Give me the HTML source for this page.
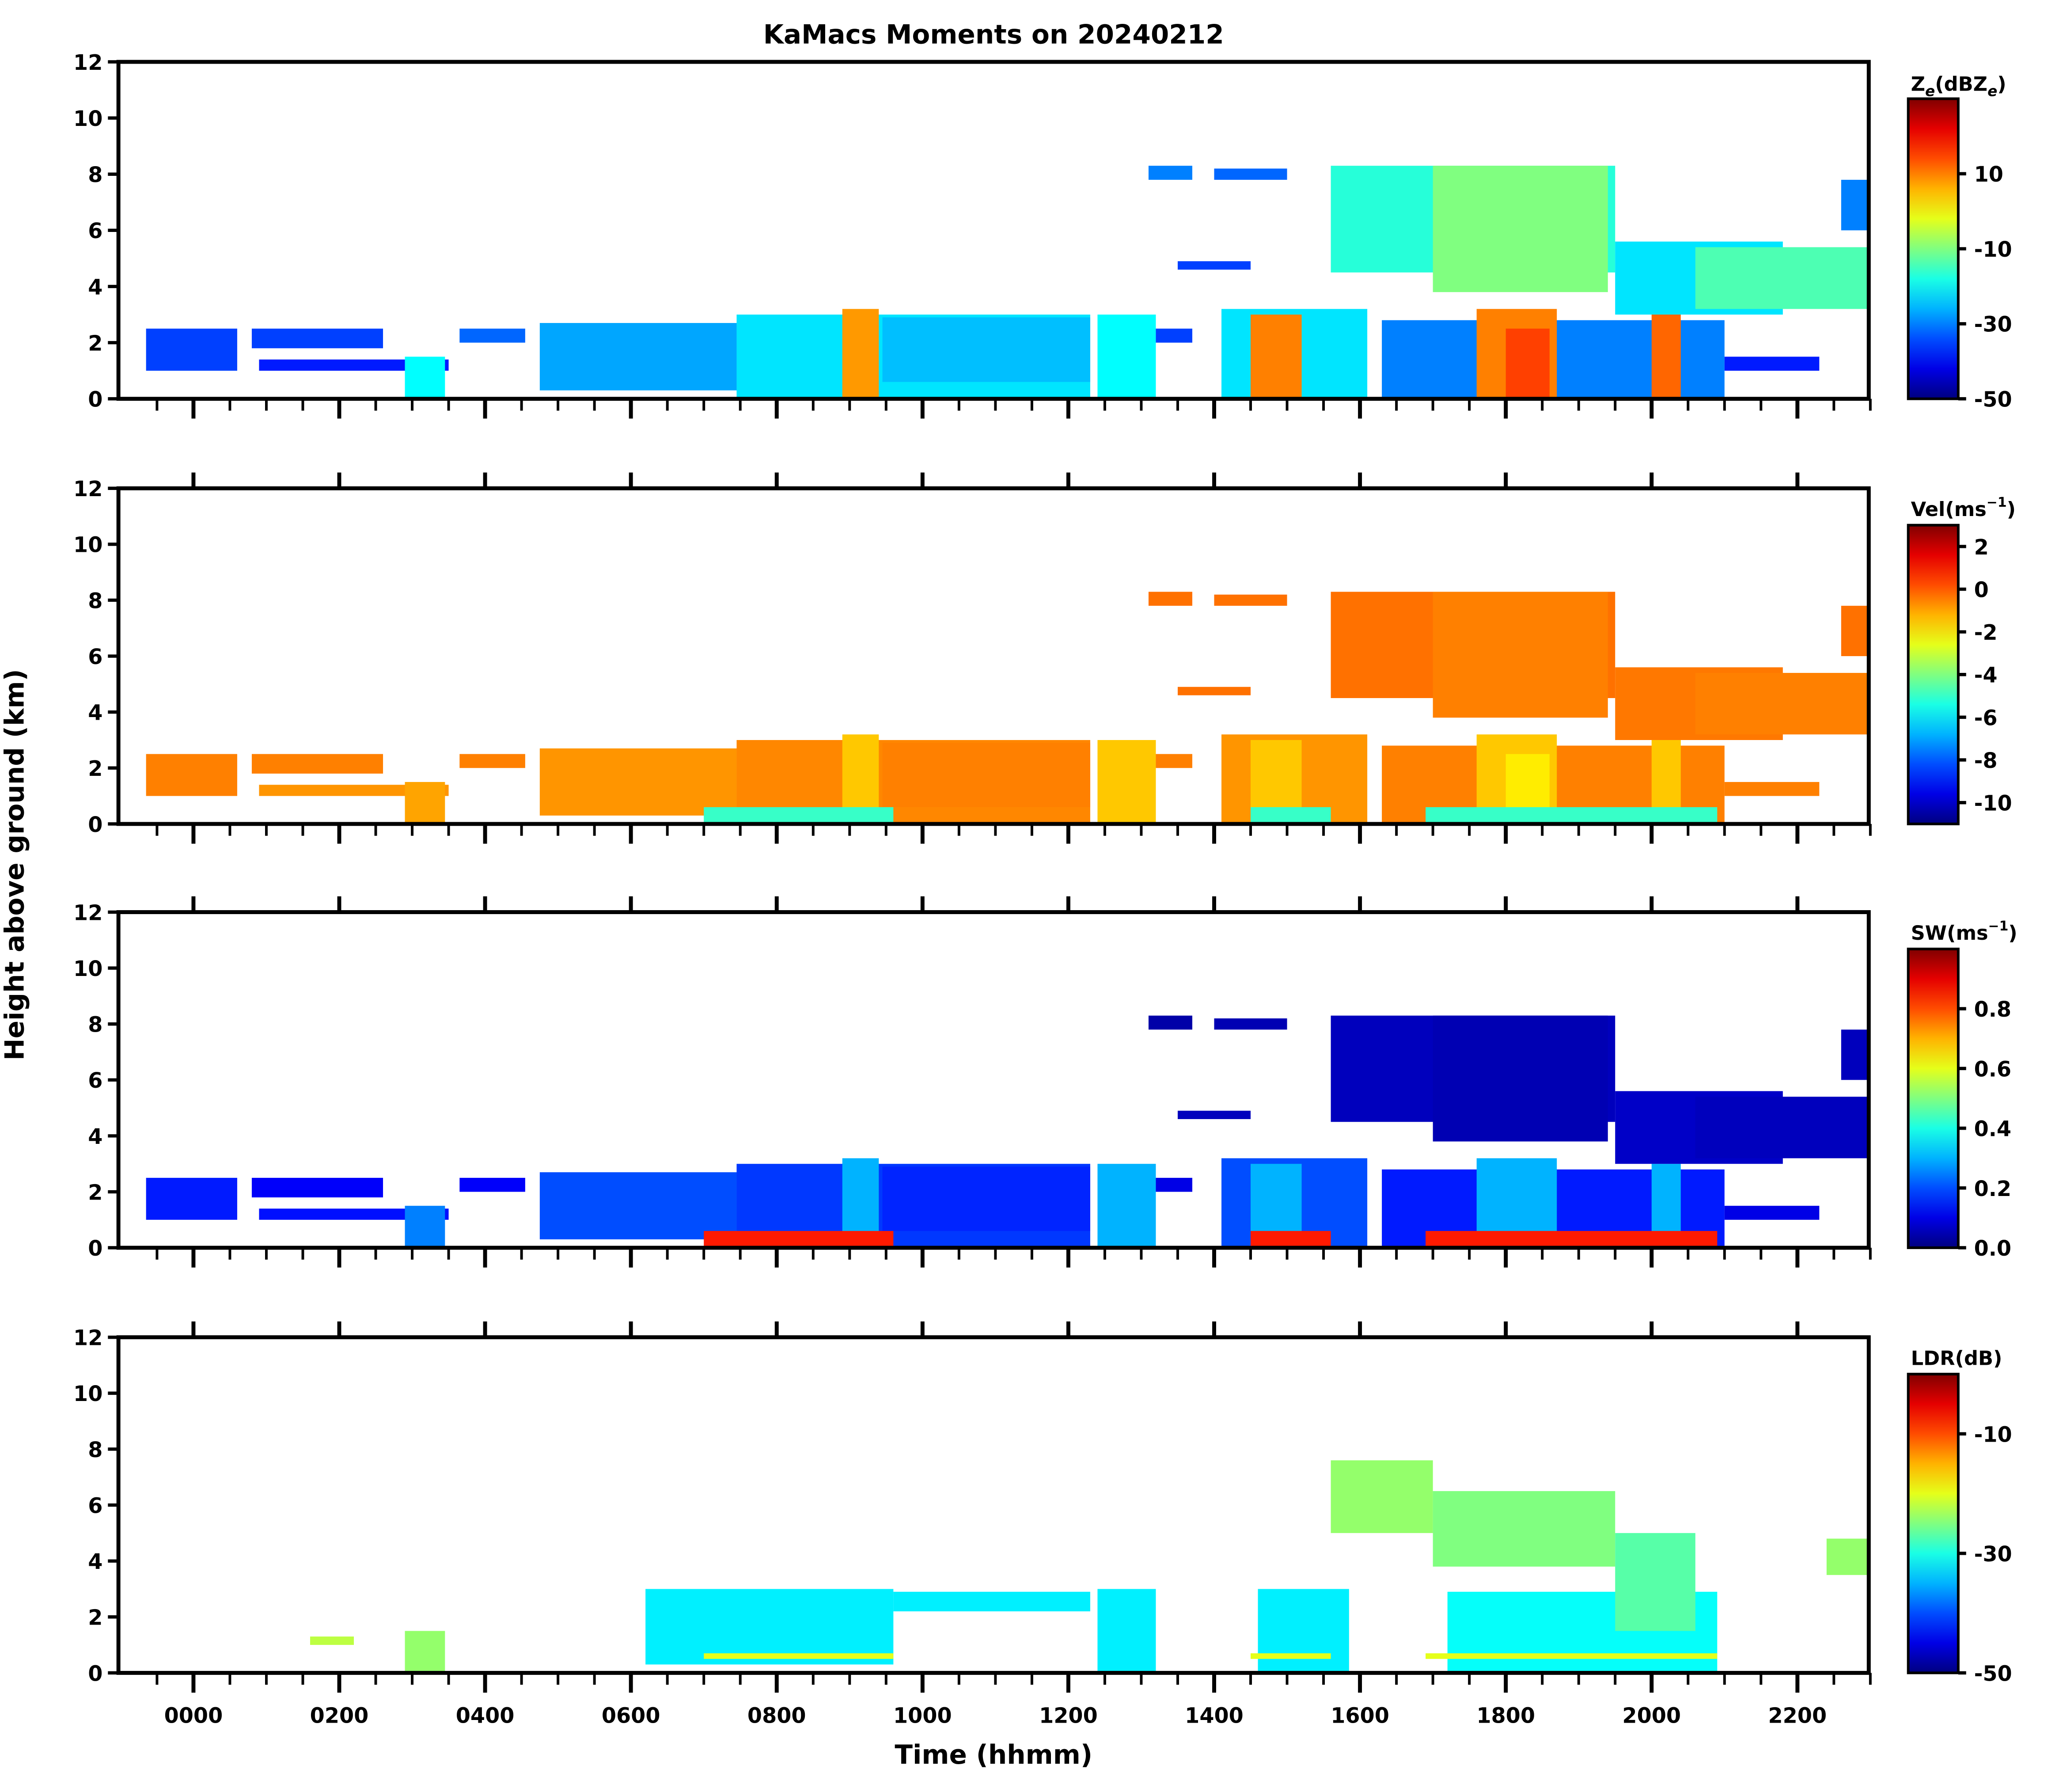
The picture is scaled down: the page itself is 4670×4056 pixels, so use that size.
<!DOCTYPE html>
<html><head><meta charset="utf-8"><style>
html,body{margin:0;padding:0;background:#fff}
svg{display:block}
text{font-family:"DejaVu Sans","Liberation Sans",sans-serif;font-weight:bold;fill:#000}
</style></head><body>
<svg id="chart" width="4670" height="4056" viewBox="0 0 1567.6 1361.5" xmlns="http://www.w3.org/2000/svg">
<text x="755" y="33" font-size="20" text-anchor="middle">KaMacs Moments on 20240212</text>
<text transform="translate(18,657) rotate(-90)" font-size="20" text-anchor="middle">Height above ground (km)</text>
<text x="755" y="1340" font-size="20" text-anchor="middle">Time (hhmm)</text>
<g id="g"></g>
</svg>
<script>
// cloud blocks: start hour, end hour, base km, top km
const blockStart=[-0.65,0.8,0.9,2.9,3.65,4.75,7.45,8.9,9.45,12.4,13.2,14.1,14.5,16.3,17.6,18.0,20.0,15.6,17.0,19.5,20.6,13.1,14.0,13.5,21.0,22.6];
const blockEnd  =[0.6,2.6,3.5,3.45,4.55,7.45,12.3,9.4,12.3,13.2,13.7,16.1,15.2,21.0,18.7,18.6,20.4,19.5,19.4,21.8,23.0,13.7,15.0,14.5,22.3,23.0];
const blockBase =[1.0,1.8,1.0,0.0,2.0,0.3,0.0,0.0,0.6,0.0,2.0,0.0,0.0,0.0,0.0,0.0,0.0,4.5,3.8,3.0,3.2,7.8,7.8,4.6,1.0,6.0];
const blockTop  =[2.5,2.5,1.4,1.5,2.5,2.7,3.0,3.2,2.9,3.0,2.5,3.2,3.0,2.8,3.2,2.5,3.0,8.3,8.3,5.6,5.4,8.3,8.2,4.9,1.5,7.8];
const zeVal  =[-35,-35,-38,-20,-32,-27,-22,8,-25,-20,-35,-22,10,-30,10,15,12,-17,-10,-22,-14,-30,-32,-35,-38,-30];
const velVal =[-0.5,-0.5,-0.8,-1,-0.5,-0.8,-0.6,-1.5,-0.5,-1.5,-0.5,-0.8,-1.5,-0.5,-1.5,-2,-1.5,-0.3,-0.5,-0.4,-0.5,-0.3,-0.3,-0.3,-0.5,-0.3];
const swVal  =[0.15,0.12,0.14,0.25,0.12,0.2,0.18,0.3,0.16,0.3,0.1,0.2,0.3,0.15,0.3,0.3,0.3,0.06,0.05,0.07,0.06,0.04,0.05,0.06,0.1,0.06];
// LDR has its own (smaller) echo set
const ldrStart=[1.6,2.9,6.2,9.6,12.4,14.6,17.2,15.6,17.0,19.5,22.4];
const ldrEnd  =[2.2,3.45,9.6,12.3,13.2,15.85,20.9,17.0,19.5,20.6,23.0];
const ldrBase =[1.0,0.0,0.3,2.2,0.0,0.0,0.0,5.0,3.8,1.5,3.5];
const ldrTop  =[1.3,1.5,3.0,2.9,3.0,3.0,2.9,7.6,6.5,5.0,4.8];
const ldrVal  =[-22,-24,-32,-32,-32,-32,-31,-24,-25,-27,-24];
// bottom near-surface bands (start, end) for Vel/SW/LDR
const bandStart=[7.0,14.5,16.9];
const bandEnd  =[9.6,15.6,20.9];
const xTickLabels=["0000","0200","0400","0600","0800","1000","1200","1400","1600","1800","2000","2200"];
const yTickLabels=[0,2,4,6,8,10,12];
const cbTicks=[[-50,-30,-10,10],[-10,-8,-6,-4,-2,0,2],[0.0,0.2,0.4,0.6,0.8],[-50,-30,-10]];
const cbTickText=[["-50","-30","-10","10"],["-10","-8","-6","-4","-2","0","2"],["0.0","0.2","0.4","0.6","0.8"],["-50","-30","-10"]];
const cbRange=[[-50,30],[-11,3],[0,1],[-50,0]];
const panelTop=[47,371,693,1016],panelBot=[303,626,948,1271];
const L=90,R=1420;
const X=h=>147+h*55.4;
const NS="http://www.w3.org/2000/svg";
const g=document.getElementById('g');
function el(t,a,p){const e=document.createElementNS(NS,t);for(const k in a)e.setAttribute(k,a[k]);(p||g).appendChild(e);return e;}
function jet(f){f=Math.max(0,Math.min(1,f));
 const r=Math.max(0,Math.min(1,1.5-Math.abs(4*f-3))),gg=Math.max(0,Math.min(1,1.5-Math.abs(4*f-2))),b=Math.max(0,Math.min(1,1.5-Math.abs(4*f-1)));
 return `rgb(${Math.round(r*255)},${Math.round(gg*255)},${Math.round(b*255)})`;}
const vals=[zeVal,velVal,swVal];
const names=['reflectivity','velocity','spectrum-width','ldr'];
for(let p=0;p<4;p++){
 const top=panelTop[p],bot=panelBot[p];
 const Y=k=>bot-k*(bot-top)/12;
 const [lo,hi]=cbRange[p];
 const gp=el('g',{});
 
 
 const S=p<3?blockStart:ldrStart,E=p<3?blockEnd:ldrEnd,B=p<3?blockBase:ldrBase,T=p<3?blockTop:ldrTop,V=p<3?vals[p]:ldrVal;
 for(let i=0;i<S.length;i++){
  const r=el('rect',{x:X(S[i]),y:Y(T[i]),width:X(E[i])-X(S[i]),height:Y(B[i])-Y(T[i]),fill:jet((V[i]-lo)/(hi-lo))},gp);
  
  
 }
 if(p>0){
  const bv=[0,-5,0.85,-20][p];
  const bt=p===3?0.7:0.6, bb=p===3?0.5:0;
  for(let i=0;i<bandStart.length;i++){
   const r=el('rect',{x:X(bandStart[i]),y:Y(bt),width:X(bandEnd[i])-X(bandStart[i]),height:Y(bb)-Y(bt),fill:jet((bv-lo)/(hi-lo))},gp);
   
   
  }
 }
 const fr=el('rect',{x:L,y:top,width:R-L,height:bot-top,fill:'none',stroke:'#000','stroke-width':3});
 
 
 yTickLabels.forEach(k=>{
  el('line',{x1:L-8,x2:L,y1:Y(k),y2:Y(k),stroke:'#000','stroke-width':2.5});
  const t=el('text',{x:L-12,y:Y(k)+6,'font-size':16,'text-anchor':'end'});t.textContent=k;
  
  
 });
 for(let h=-0.5;h<=23;h+=0.5){
  const major=Math.abs(h/2-Math.round(h/2))<1e-6;
  el('line',{x1:X(h),x2:X(h),y1:bot,y2:bot+(major?15:9),stroke:'#000','stroke-width':major?3:2});
  if(major&&p>0) el('line',{x1:X(h),x2:X(h),y1:top,y2:top-12,stroke:'#000','stroke-width':3});
 }
 // colorbar
 const cbT=top+28,cbB=bot,cx=1450,cw=38;
 const gid='cb'+p;
 const grad=el('linearGradient',{id:gid,x1:0,y1:1,x2:0,y2:0});
 for(let s=0;s<=10;s++)el('stop',{offset:s/10,'stop-color':jet(s/10)},grad);
 const cb=el('rect',{x:cx,y:cbT,width:cw,height:cbB-cbT,fill:`url(#${gid})`,stroke:'#000','stroke-width':2});
 
 
 cbTicks[p].forEach((v,j)=>{
  const y=cbB-(v-lo)/(hi-lo)*(cbB-cbT);
  el('line',{x1:cx+cw,x2:cx+cw+6,y1:y,y2:y,stroke:'#000','stroke-width':2.5});
  const t=el('text',{x:cx+cw+12,y:y+6,'font-size':16});t.textContent=cbTickText[p][j];
  
  
 });
}
xTickLabels.forEach((s,i)=>{
 const t=el('text',{x:X(i*2),y:1309,'font-size':16,'text-anchor':'middle'});t.textContent=s;
 
 
});
const cbly=[69,392,714,1037];
[0,1,2,3].forEach(i=>{
 const t=el('text',{x:1452,y:cbly[i],'font-size':15});
 
 
 if(i===0){t.innerHTML='Z<tspan font-size="11" dy="4" font-style="italic">e</tspan><tspan dy="-4">(dBZ</tspan><tspan font-size="11" dy="4" font-style="italic">e</tspan><tspan dy="-4">)</tspan>';}
 else if(i<3){t.innerHTML=(i===1?'Vel(ms':'SW(ms')+'<tspan font-size="10" dy="-7">−1</tspan><tspan dy="7">)</tspan>';}
 else t.textContent='LDR(dB)';
});
</script>
</body></html>
